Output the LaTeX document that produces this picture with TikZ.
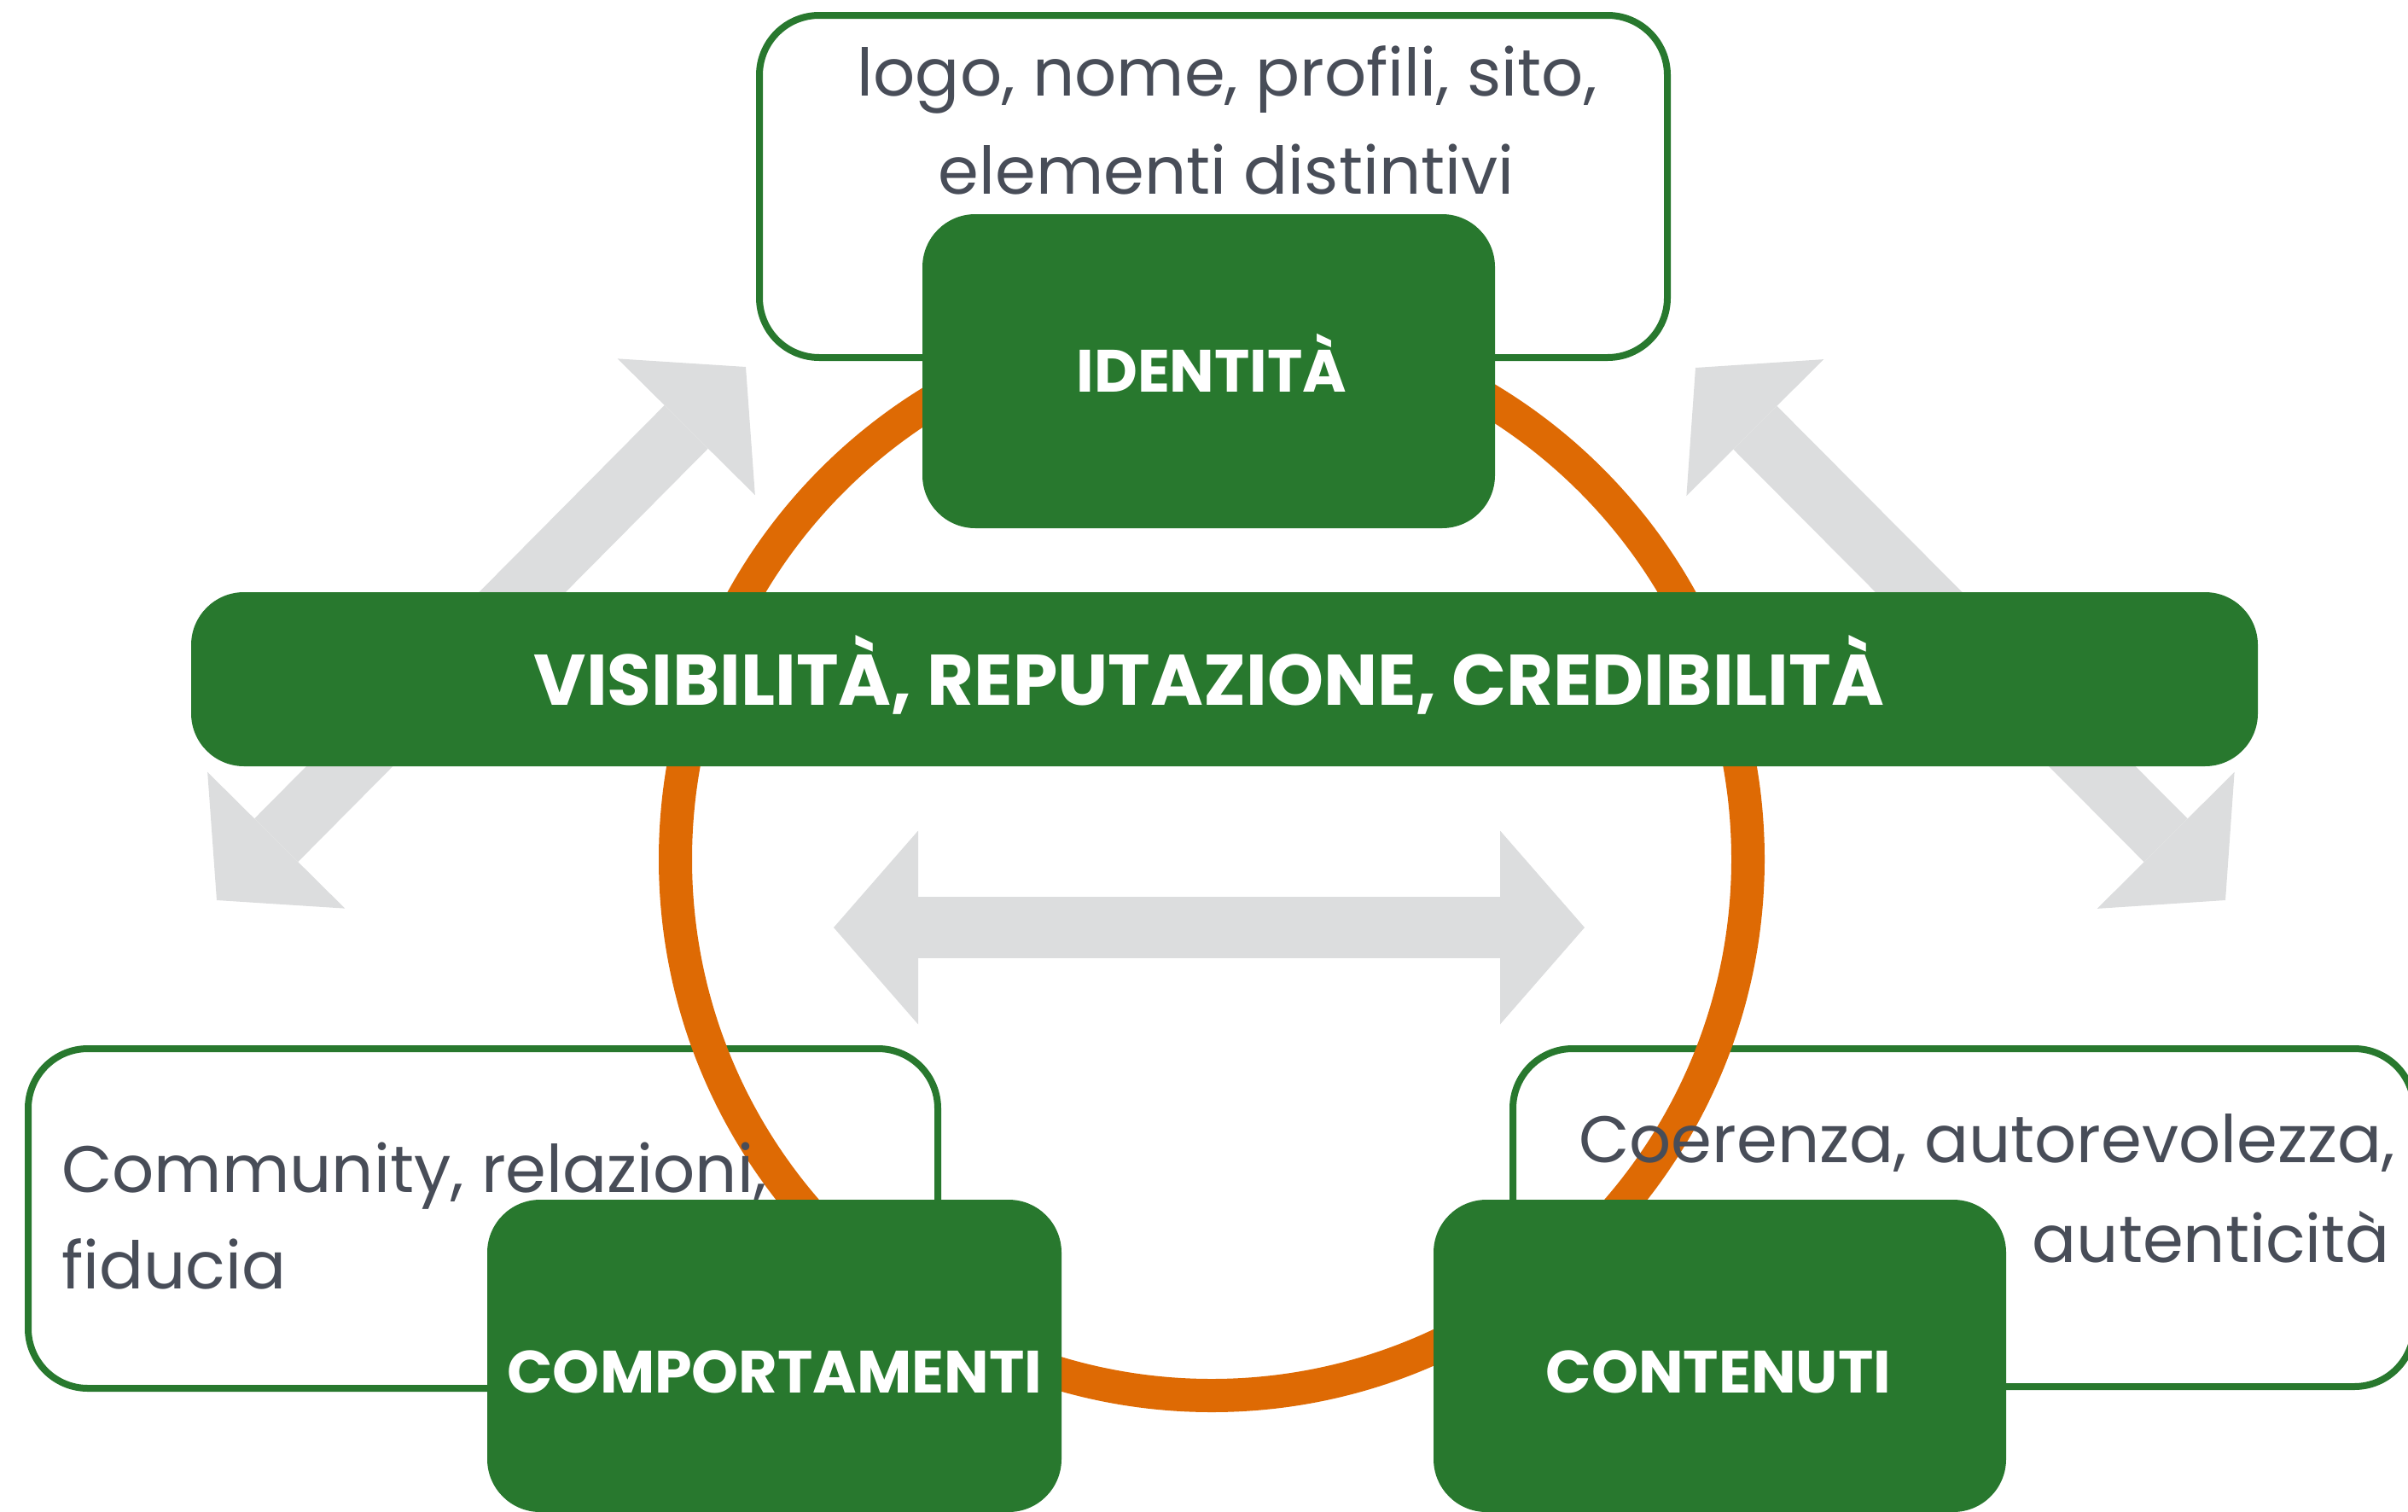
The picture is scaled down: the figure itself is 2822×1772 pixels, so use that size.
\documentclass[tikz,border=0pt]{standalone}
\usepackage{fontspec}
\setmainfont{Poppins}
\usetikzlibrary{arrows.meta}
\definecolor{boxgreen}{RGB}{40,120,46}
\definecolor{ringorange}{RGB}{222,106,4}
\definecolor{arrowgray}{RGB}{220,221,222}
\definecolor{textgray}{RGB}{72,77,88}
\begin{document}
\begin{tikzpicture}[x=1pt,y=-1pt,
  greenbox/.style={fill=boxgreen, rounded corners=62pt, inner sep=0pt, draw=none},
  greenlabel/.style={text=white, inner sep=0pt, font=\fontsize{70}{84}\selectfont\bfseries},
  biglabel/.style={text=white, inner sep=0pt, font=\fontsize{84}{100}\selectfont\bfseries},
  outlinebox/.style={draw=boxgreen, line width=8pt, rounded corners=70pt, fill=white, inner sep=0pt},
  graytext/.style={text=textgray, inner sep=0pt, font=\fontsize{77}{115}\selectfont},
  bigtip/.tip={Triangle[length=99pt,width=227pt,line width=0pt]},
  bigarrow/.style={draw=arrowgray, line width=72pt, bigtip-bigtip},
  ring/.style={draw=ringorange, line width=39pt},
]
\useasboundingbox (0,0) rectangle (2822,1772);
\begin{scope}
\clip (0,0) rectangle (2822,1772);
% gray double arrows
\coordinate (a1) at (874,430);
\coordinate (a2) at (254,1055);
\coordinate (b1) at (1987,431);
\coordinate (b2) at (2608,1055);
\coordinate (h1) at (977,1087);
\coordinate (h2) at (1857,1087);
\draw[bigarrow] (a2) -- (a1);
\draw[bigarrow] (b1) -- (b2);
\draw[bigarrow] (h1) -- (h2);

% outline boxes
\node[outlinebox, minimum width=1064pt, minimum height=401pt] (topbox) at (1422,218.5) {};
\node[outlinebox, minimum width=1066pt, minimum height=398pt] (leftbox) at (566,1428) {};
\node[outlinebox, minimum width=1056pt, minimum height=396pt] (rightbox) at (2301,1427) {};

% orange ring
\node[ring, circle, minimum size=1257pt, inner sep=0pt] (ring) at (1420,1007) {};

% gray texts
\node[graytext, anchor=base] (t1) at (1438,112) {logo, nome, profili, sito,};
\node[graytext, anchor=base] (t2) at (1437,227) {elementi distintivi};
\node[graytext, anchor=base west] (l1) at (72,1397) {Community, relazioni,};
\node[graytext, anchor=base west] (l2) at (72,1510) {fiducia};
\node[graytext, anchor=base east] (r1) at (2807,1362) {Coerenza, autorevolezza,};
\node[graytext, anchor=base east] (r2) at (2801,1479) {autenticità};

% green boxes
\node[greenbox, minimum width=671pt, minimum height=368pt] (identita) at (1416.5,435) {};
\node[greenlabel, anchor=base] (identitalabel) at (1420,459) {IDENTITÀ};
\node[greenbox, minimum width=2422pt, minimum height=204pt] (bar) at (1435,796) {};
\node[biglabel, anchor=base] (barlabel) at (1417,826) {VISIBILITÀ, REPUTAZIONE, CREDIBILITÀ};
\node[greenbox, minimum width=673pt, minimum height=366pt] (comport) at (907.5,1589) {};
\node[greenlabel, anchor=base] (comportlabel) at (908,1632) {COMPORTAMENTI};
\node[greenbox, minimum width=671pt, minimum height=366pt] (contenuti) at (2015.5,1589) {};
\node[greenlabel, anchor=base] (contenutilabel) at (2014,1632) {CONTENUTI};
\end{scope}
\end{tikzpicture}
\end{document}
